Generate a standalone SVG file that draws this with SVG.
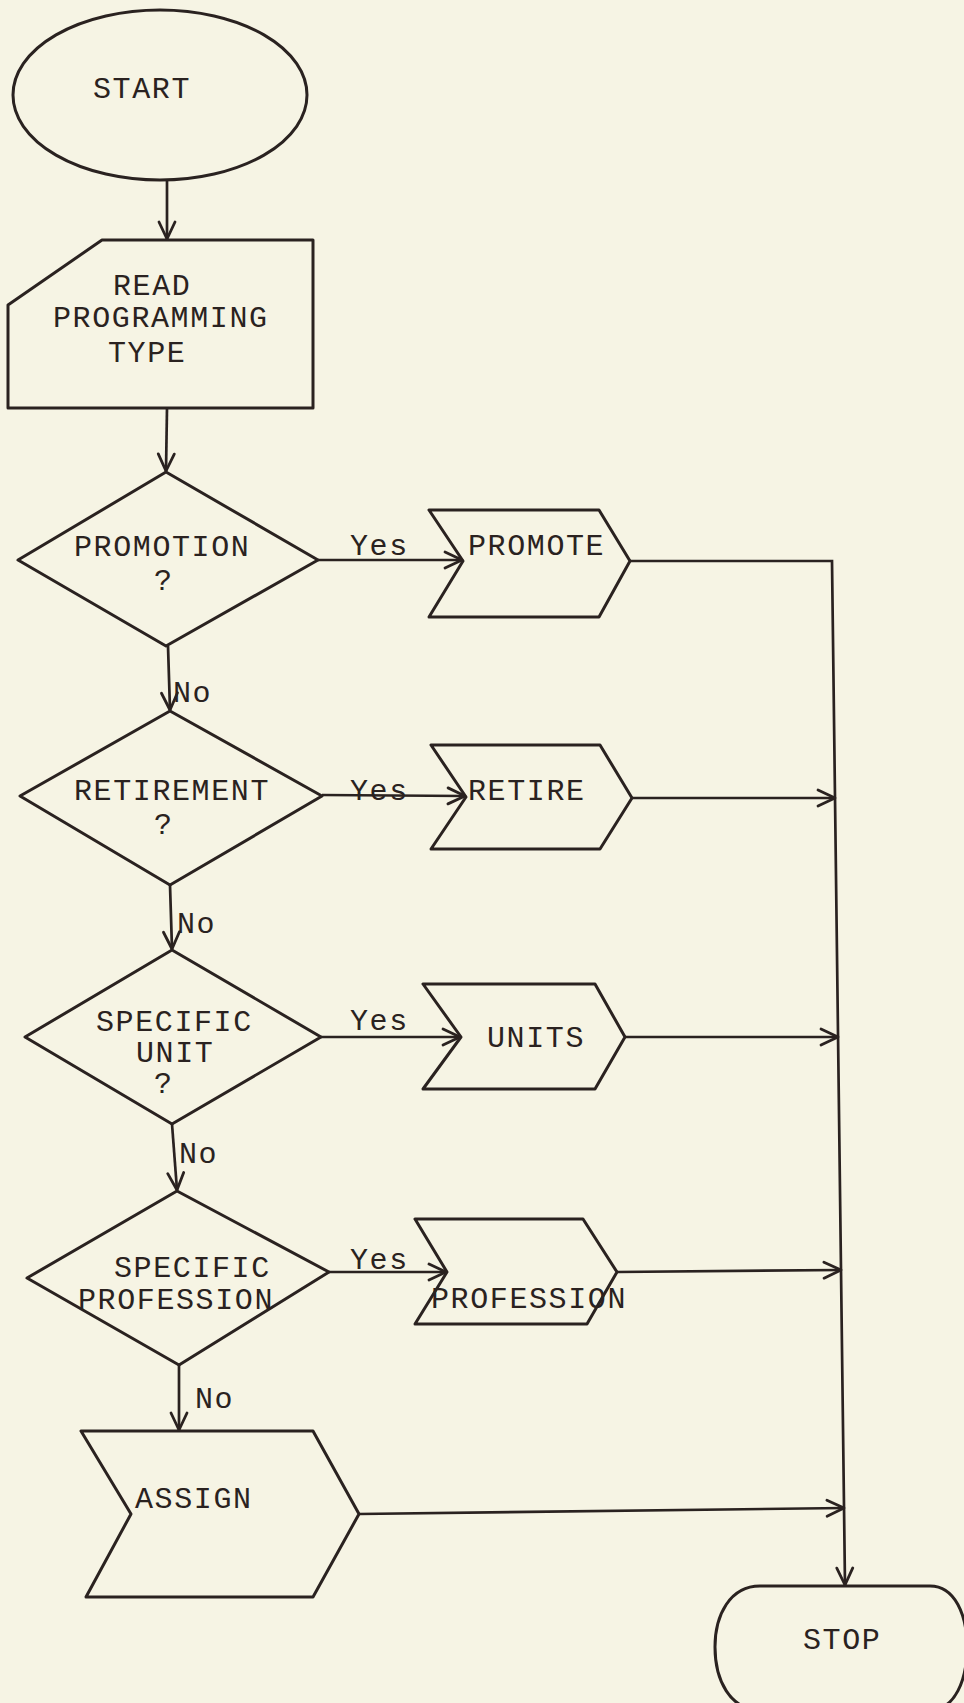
<svg xmlns="http://www.w3.org/2000/svg" width="964" height="1703" viewBox="0 0 964 1703">
  <style>
    .shape { fill: none; stroke: #2a2220; stroke-width: 3; stroke-linejoin: round; }
    .conn { fill: none; stroke: #2a2220; stroke-width: 2.7; }
    .lbl { font-family: "Liberation Mono", "DejaVu Sans Mono", monospace; font-size: 30px; letter-spacing: 1.6px; fill: #2a2220; }
  </style>
  <defs>
    <marker id="arrow" markerUnits="userSpaceOnUse" markerWidth="30" markerHeight="24" viewBox="-20 -12 24 24" refX="0" refY="0" orient="auto">
      <path d="M -17 -8 L 0 0 L -17 8" fill="none" stroke="#2a2220" stroke-width="2.8" stroke-linecap="round" stroke-linejoin="round"/>
    </marker>
  </defs>
  <rect x="0" y="0" width="964" height="1703" fill="#f6f4e4"/>

  <!-- connectors -->
  <g id="connectors">
    <path class="conn" d="M 167 180 L 167 239" marker-end="url(#arrow)"/>
    <path class="conn" d="M 167 408 L 166 471" marker-end="url(#arrow)"/>
    <path class="conn" d="M 168 646 L 170 710" marker-end="url(#arrow)"/>
    <path class="conn" d="M 170 885 L 172 949" marker-end="url(#arrow)"/>
    <path class="conn" d="M 172 1124 L 177 1190" marker-end="url(#arrow)"/>
    <path class="conn" d="M 179 1365 L 179 1430" marker-end="url(#arrow)"/>
    <path class="conn" d="M 318 560 L 462 560" marker-end="url(#arrow)"/>
    <path class="conn" d="M 322 795 L 465 796" marker-end="url(#arrow)"/>
    <path class="conn" d="M 321 1037 L 460 1037" marker-end="url(#arrow)"/>
    <path class="conn" d="M 329 1272 L 446 1272" marker-end="url(#arrow)"/>
    <path class="conn" d="M 630 561 L 832 561 L 845 1585" marker-end="url(#arrow)"/>
    <path class="conn" d="M 632 798 L 835 798" marker-end="url(#arrow)"/>
    <path class="conn" d="M 625 1037 L 838 1037" marker-end="url(#arrow)"/>
    <path class="conn" d="M 617 1272 L 841 1270" marker-end="url(#arrow)"/>
    <path class="conn" d="M 359 1514 L 844 1508" marker-end="url(#arrow)"/>
    <text class="lbl" x="350" y="555">Yes</text>
    <text class="lbl" x="350" y="800">Yes</text>
    <text class="lbl" x="350" y="1030">Yes</text>
    <text class="lbl" x="350" y="1269">Yes</text>
    <text class="lbl" x="173" y="702">No</text>
    <text class="lbl" x="177" y="933">No</text>
    <text class="lbl" x="179" y="1163">No</text>
    <text class="lbl" x="195" y="1408">No</text>
  </g>

  <g id="start">
    <ellipse class="shape" cx="160" cy="95" rx="147" ry="85"/>
    <text class="lbl" x="93" y="98">START</text>
  </g>

  <g id="read">
    <path class="shape" d="M 102 240 L 313 240 L 313 408 L 8 408 L 8 305 Z"/>
    <text class="lbl" x="113" y="295">READ</text>
    <text class="lbl" x="53" y="327">PROGRAMMING</text>
    <text class="lbl" x="108" y="362">TYPE</text>
  </g>

  <g id="promotion">
    <path class="shape" d="M 166 472 L 318 560 L 166 646 L 18 560 Z"/>
    <text class="lbl" x="74" y="556">PROMOTION</text>
    <text class="lbl" x="154" y="590">?</text>
  </g>

  <g id="promote">
    <path class="shape" d="M 429 510 L 599 510 L 630 561 L 599 617 L 429 617 L 463 561 Z"/>
    <text class="lbl" x="468" y="555">PROMOTE</text>
  </g>

  <g id="retirement">
    <path class="shape" d="M 170 711 L 322 796 L 170 885 L 20 796 Z"/>
    <text class="lbl" x="74" y="800">RETIREMENT</text>
    <text class="lbl" x="154" y="834">?</text>
  </g>

  <g id="retire">
    <path class="shape" d="M 431 745 L 600 745 L 632 798 L 600 849 L 431 849 L 466 797 Z"/>
    <text class="lbl" x="468" y="800">RETIRE</text>
  </g>

  <g id="specific-unit">
    <path class="shape" d="M 172 950 L 321 1037 L 172 1124 L 25 1037 Z"/>
    <text class="lbl" x="96" y="1031">SPECIFIC</text>
    <text class="lbl" x="136" y="1062">UNIT</text>
    <text class="lbl" x="154" y="1093">?</text>
  </g>

  <g id="units">
    <path class="shape" d="M 423 984 L 595 984 L 625 1037 L 595 1089 L 423 1089 L 461 1037 Z"/>
    <text class="lbl" x="487" y="1047">UNITS</text>
  </g>

  <g id="specific-profession">
    <path class="shape" d="M 177 1191 L 329 1272 L 179 1365 L 27 1278 Z"/>
    <text class="lbl" x="114" y="1277">SPECIFIC</text>
    <text class="lbl" x="78" y="1309">PROFESSION</text>
  </g>

  <g id="profession">
    <path class="shape" d="M 415 1219 L 583 1219 L 617 1272 L 587 1324 L 415 1324 L 447 1272 Z"/>
    <text class="lbl" x="431" y="1308">PROFESSION</text>
  </g>

  <g id="assign">
    <path class="shape" d="M 81 1431 L 313 1431 L 359 1514 L 313 1597 L 86 1597 L 131 1514 Z"/>
    <text class="lbl" x="135" y="1508">ASSIGN</text>
  </g>

  <g id="stop">
    <path class="shape" d="M 760 1586 L 930 1586 C 955 1586 967 1615 967 1647 C 967 1680 955 1710 930 1710 L 760 1710 C 730 1710 715 1680 715 1647 C 715 1615 730 1586 760 1586 Z"/>
    <text class="lbl" x="803" y="1649">STOP</text>
  </g>
</svg>
